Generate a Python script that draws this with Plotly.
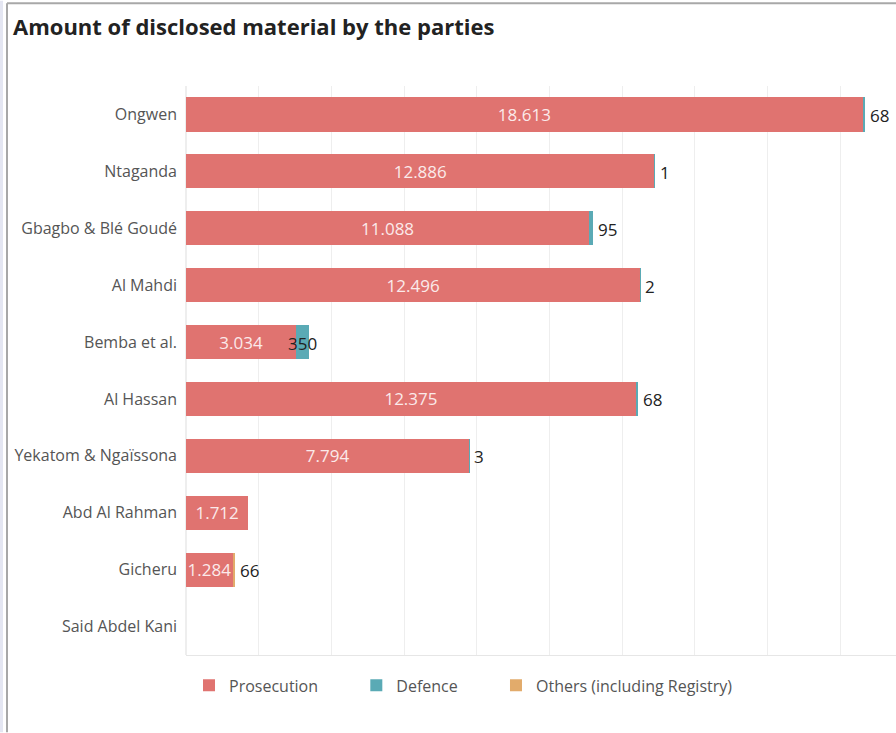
import plotly.graph_objects as go

categories = ["Ongwen", "Ntaganda", "Gbagbo & Blé Goudé", "Al Mahdi", "Bemba et al.",
              "Al Hassan", "Yekatom & Ngaïssona", "Abd Al Rahman", "Gicheru", "Said Abdel Kani"]
prosecution = [18613, 12886, 11088, 12496, 3034, 12375, 7794, 1712, 1284, 0]
defence = [68, 1, 95, 2, 350, 68, 3, 0, 0, 0]
others = [0, 0, 0, 0, 0, 0, 0, 0, 66, 0]
end_labels = ["68", "1", "95", "2", "350", "68", "3", "", "66", ""]

C_PROS = "#E07370"
C_DEF = "#5AAAB5"
C_OTH = "#E2AB6B"
FONT = "Open Sans"
PAD = "&nbsp;" * 8

def fmt(v):
    return f"{v:,}".replace(",", ".") if v else ""

fig = go.Figure()
fig.add_trace(go.Bar(
    y=categories, x=prosecution, orientation="h", name="Prosecution" + PAD,
    marker=dict(color=C_PROS, line=dict(width=0)),
    text=[fmt(v) for v in prosecution], textposition="inside",
    insidetextanchor="middle", textangle=0,
    textfont=dict(color="#FBEAEA", size=17, family=FONT),
))
fig.add_trace(go.Bar(
    y=categories, x=defence, orientation="h", name="Defence" + PAD,
    marker=dict(color=C_DEF, line=dict(width=0)),
))
fig.add_trace(go.Bar(
    y=categories, x=others, orientation="h", name="Others (including Registry)",
    marker=dict(color=C_OTH, line=dict(width=0)),
))

totals = [p + d + o for p, d, o in zip(prosecution, defence, others)]
for i, t in enumerate(totals):
    if not end_labels[i]:
        continue
    if categories[i] == "Bemba et al.":
        fig.add_annotation(x=prosecution[i] + defence[i] / 2, y=categories[i],
                           text=end_labels[i], showarrow=False, xanchor="center",
                           yshift=-1, font=dict(color="#222222", size=17, family=FONT))
    else:
        fig.add_annotation(x=t, y=categories[i], text=end_labels[i], showarrow=False,
                           xanchor="left", xshift=3, yshift=-1,
                           font=dict(color="#222222", size=17, family=FONT))

fig.update_layout(
    width=896, height=733,
    barmode="stack", bargap=0.4,
    paper_bgcolor="white", plot_bgcolor="white",
    margin=dict(l=186, r=0, t=85.5, b=77.5),
    font=dict(family=FONT, color="#555555", size=16),
    uniformtext=dict(minsize=17, mode="show"),
    title=dict(text="<b>Amount of disclosed material by the parties</b>",
               x=13 / 896, xanchor="left", xref="container", y=1 - 27 / 733, yanchor="middle",
               yref="container",
               font=dict(family=FONT, size=22, color="#222222")),
    showlegend=True,
    legend=dict(orientation="h", x=(189 - 186) / 710, xanchor="left",
                y=-(686 - 655.5) / 570, yanchor="middle",
                font=dict(family=FONT, size=16, color="#555555"),
                traceorder="normal"),
    xaxis=dict(range=[0, 19530], dtick=2000, tick0=0, showgrid=True,
               gridcolor="#EEEEEE", gridwidth=1, zeroline=True, zerolinecolor="#EEEEEE",
               showticklabels=False, showline=True, linecolor="#E6E6E6", linewidth=1,
               fixedrange=True),
    yaxis=dict(autorange="reversed", showgrid=False, ticks="", ticklabelstandoff=8,
               tickfont=dict(family=FONT, size=16, color="#555555"), fixedrange=True),
)

# frame lines of the dashboard sheet
fig.add_shape(type="line", xref="paper", yref="paper",
              x0=-179 / 710, x1=-179 / 710, y0=-77.5 / 570, y1=1 + 83 / 570,
              line=dict(color="#A8A8A8", width=2))
fig.add_shape(type="line", xref="paper", yref="paper",
              x0=-179 / 710, x1=1, y0=1 + 83 / 570, y1=1 + 83 / 570,
              line=dict(color="#A8A8A8", width=2))
fig.add_shape(type="rect", xref="paper", yref="paper",
              x0=-186 / 710, x1=-183 / 710, y0=-77.5 / 570, y1=1 + 85.5 / 570,
              fillcolor="#E4E6F2", line=dict(width=0))

fig.write_html("out.html")
